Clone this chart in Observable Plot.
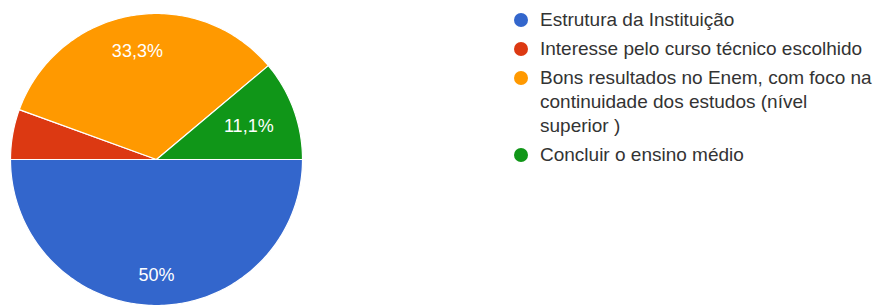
<!DOCTYPE html>
<html><head><meta charset="utf-8">
<script src="https://cdn.jsdelivr.net/npm/d3@7"></script>
<script src="https://cdn.jsdelivr.net/npm/@observablehq/plot@0.6"></script>
<style>
body{margin:0;background:#fff;font-family:"Liberation Sans",Arial,sans-serif;}
#wrap{position:relative;width:885px;height:305px;overflow:hidden;}
#chart{position:absolute;left:0;top:0;}
#legend{position:absolute;left:514px;top:8px;}
.item{display:flex;align-items:flex-start;margin-bottom:5px;}
.sw{width:14px;height:14px;border-radius:50%;margin-top:5px;margin-right:12px;flex:none;}
.lab{width:336px;font-size:19px;line-height:24px;color:#333;}
</style></head><body>
<div id="wrap"><div id="chart"></div><div id="legend"></div></div>
<script>
// ---- data ----
const categories = [
  "Estrutura da Instituição",
  "Interesse pelo curso técnico escolhido",
  "Bons resultados no Enem, com foco na continuidade dos estudos (nível superior )",
  "Concluir o ensino médio"
];
const counts = [9, 1, 6, 2];
const colors = ["#3366cc", "#dc3912", "#ff9900", "#109618"];

// ---- layout constants ----
const CX = 156, CY = 159, R = 146;
const LABEL_FONT = 18;

const total = d3.sum(counts);
const fmt = v => {
  let s = (Math.round(v * 1000) / 10).toFixed(1);
  if (s.endsWith(".0")) s = s.slice(0, -2);
  return s.replace(".", ",") + "%";
};

// slices: start at 3 o'clock, going clockwise
const poly = [];
const labels = [];
const ctx = document.createElement("canvas").getContext("2d");
ctx.font = `${LABEL_FONT}px "Liberation Sans", Arial, sans-serif`;
let a = 0;
categories.forEach((cat, i) => {
  const frac = counts[i] / total;
  const a0 = a, a1 = a - frac * 2 * Math.PI;
  const n = Math.max(2, Math.ceil(Math.abs(a1 - a0) * 180 / Math.PI));
  poly.push({cat, x: 0, y: 0});
  for (let k = 0; k <= n; k++) {
    const t = a0 + (a1 - a0) * k / n;
    poly.push({cat, x: Math.cos(t), y: Math.sin(t)});
  }
  if (frac >= 0.07) {
    const text = fmt(frac);
    const w = ctx.measureText(text).width, h = LABEL_FONT * 0.82;
    const m = (a0 + a1) / 2;
    const D = 0.85 * R;
    const b = Math.abs(Math.cos(m)) * w / 2 + Math.abs(Math.sin(m)) * h / 2;
    const c = (w * w + h * h) / 4 - D * D;
    const r = (-b + Math.sqrt(b * b - c)) / R;
    labels.push({text, x: r * Math.cos(m), y: r * Math.sin(m)});
  }
  a = a1;
});

const plot = Plot.plot({
  width: 885,
  height: 305,
  margin: 0,
  x: {domain: [-1, 1], range: [CX - R, CX + R], axis: null},
  y: {domain: [-1, 1], range: [CY + R, CY - R], axis: null},
  color: {domain: categories, range: colors},
  style: {background: "transparent", fontFamily: '"Liberation Sans", Arial, sans-serif'},
  marks: [
    Plot.line(poly, {x: "x", y: "y", z: "cat", fill: "cat", stroke: "#ffffff", strokeWidth: 1.2, curve: "linear-closed"}),
    Plot.text(labels, {x: "x", y: "y", text: "text", fill: "#ffffff", fontSize: LABEL_FONT})
  ]
});
document.getElementById("chart").appendChild(plot);

const legend = document.getElementById("legend");
categories.forEach((cat, i) => {
  const item = document.createElement("div");
  item.className = "item";
  const sw = document.createElement("div");
  sw.className = "sw";
  sw.style.background = colors[i];
  const lab = document.createElement("div");
  lab.className = "lab";
  lab.textContent = cat;
  item.appendChild(sw);
  item.appendChild(lab);
  legend.appendChild(item);
});
</script>
</body></html>
